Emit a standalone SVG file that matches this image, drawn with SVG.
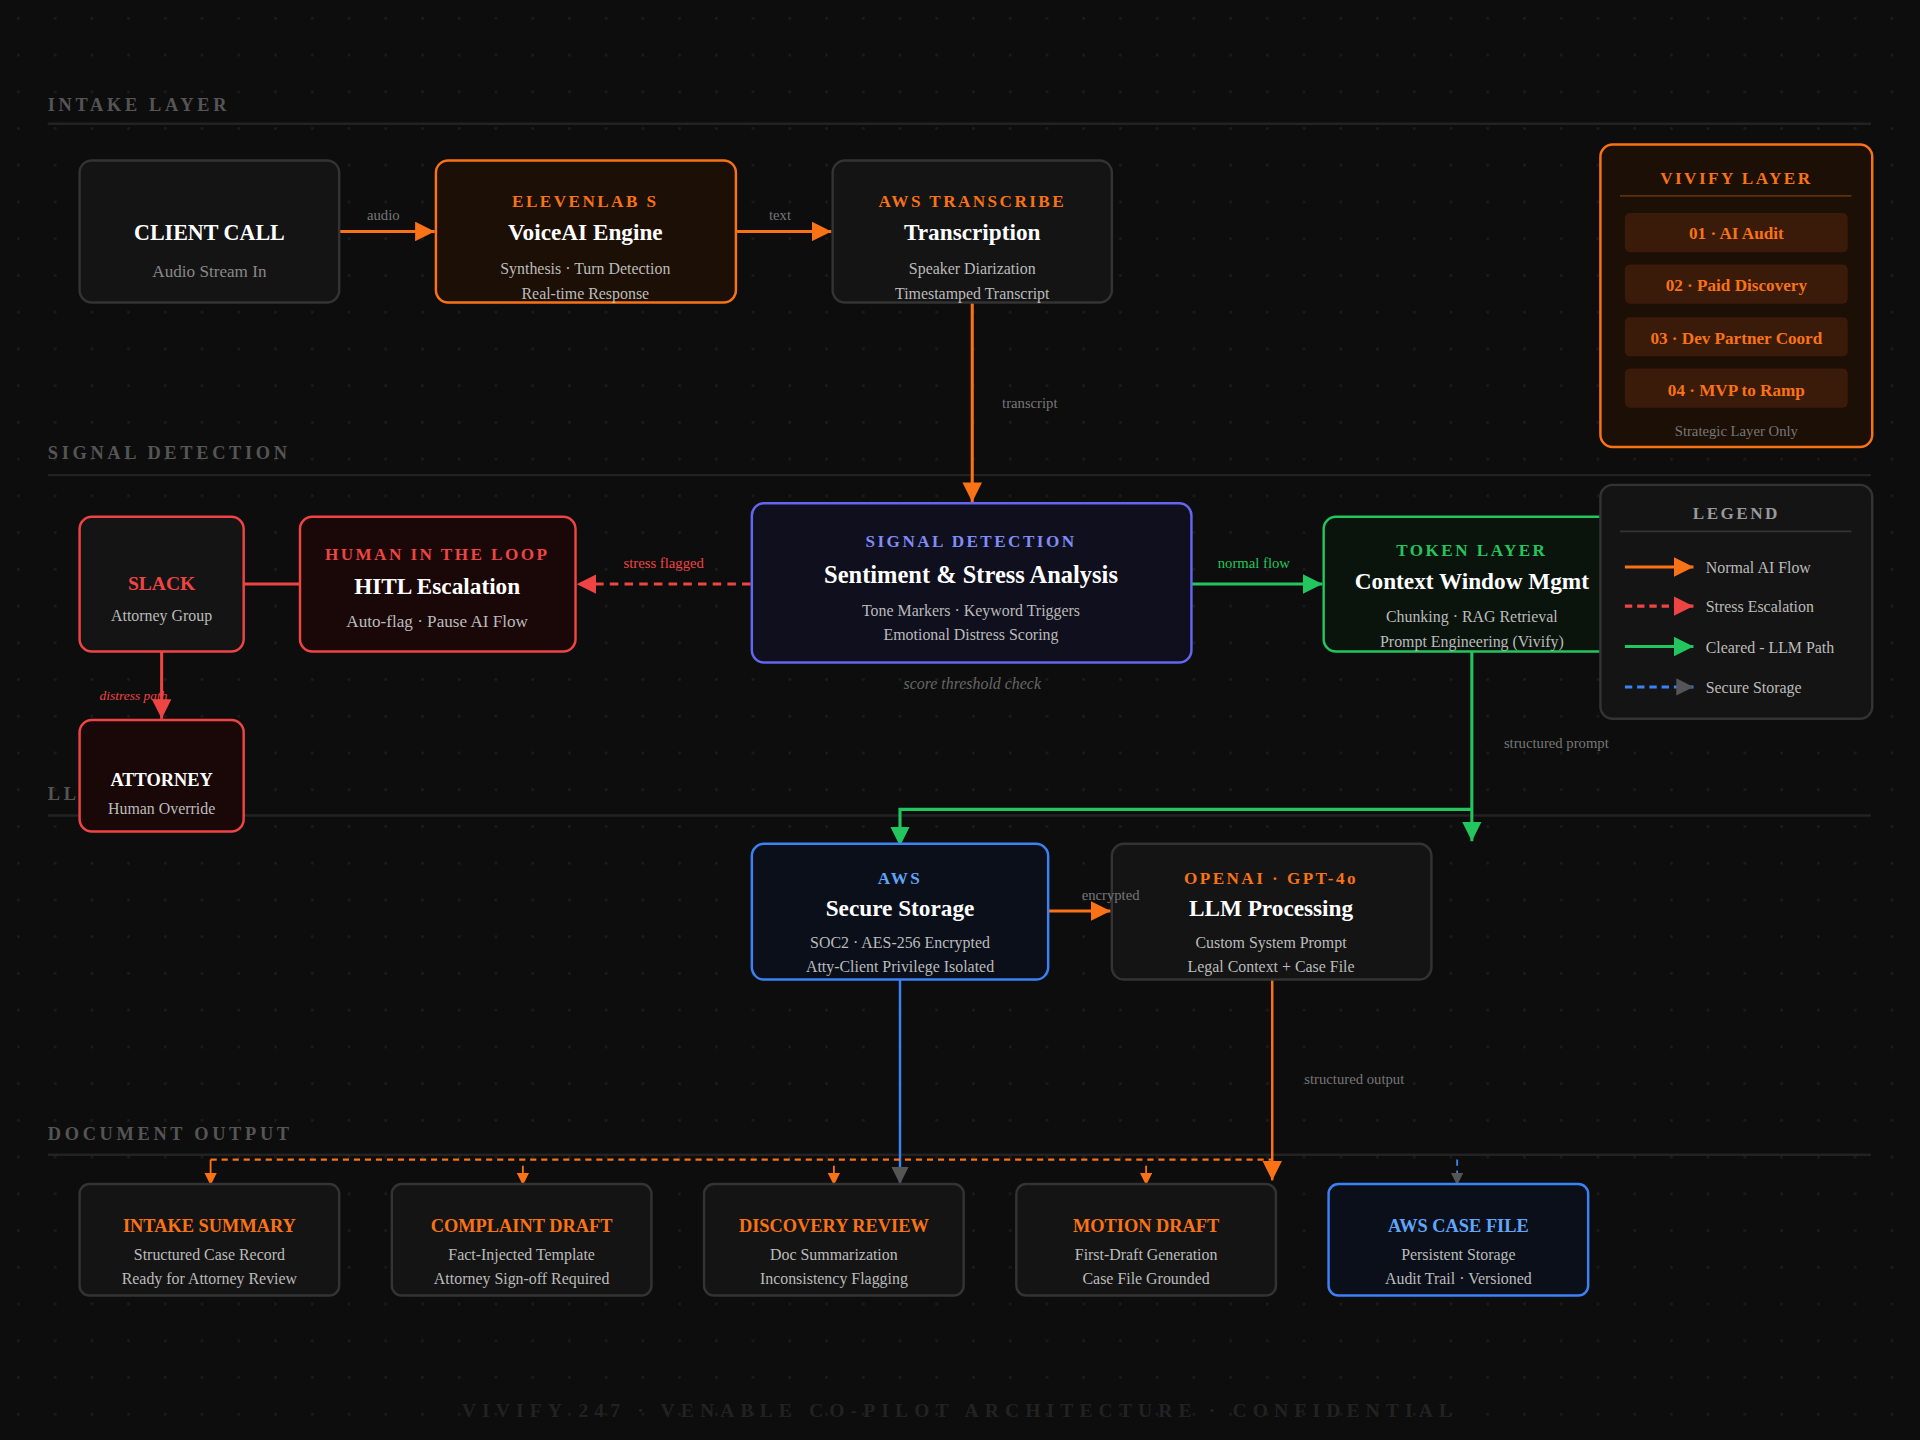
<svg xmlns="http://www.w3.org/2000/svg" width="1920" height="1440" viewBox="0 0 1920 1440">
<defs>
<pattern id="dots" width="30" height="30" patternUnits="userSpaceOnUse"><circle cx="15" cy="15" r="1.2" fill="#1c1c1c"/></pattern>
<marker id="ao" viewBox="0 0 10 10" refX="10" refY="5" markerWidth="16" markerHeight="16" markerUnits="userSpaceOnUse" orient="auto"><path d="M0,0L10,5L0,10z" fill="#f97316"/></marker>
<marker id="aos" viewBox="0 0 10 10" refX="10" refY="5" markerWidth="10" markerHeight="10" markerUnits="userSpaceOnUse" orient="auto"><path d="M0,0L10,5L0,10z" fill="#f97316"/></marker>
<marker id="ar" viewBox="0 0 10 10" refX="10" refY="5" markerWidth="16" markerHeight="16" markerUnits="userSpaceOnUse" orient="auto"><path d="M0,0L10,5L0,10z" fill="#ef4444"/></marker>
<marker id="ag" viewBox="0 0 10 10" refX="10" refY="5" markerWidth="16" markerHeight="16" markerUnits="userSpaceOnUse" orient="auto"><path d="M0,0L10,5L0,10z" fill="#22c55e"/></marker>
<marker id="ay" viewBox="0 0 10 10" refX="10" refY="5" markerWidth="14" markerHeight="14" markerUnits="userSpaceOnUse" orient="auto"><path d="M0,0L10,5L0,10z" fill="#555"/></marker>
<marker id="ays" viewBox="0 0 10 10" refX="10" refY="5" markerWidth="10" markerHeight="10" markerUnits="userSpaceOnUse" orient="auto"><path d="M0,0L10,5L0,10z" fill="#555"/></marker>
</defs>
<style>
text{font-family:"Liberation Serif","DejaVu Serif",serif;text-anchor:middle}
.sec{font-size:15px;font-weight:bold;fill:#555;letter-spacing:3px;text-anchor:start}
.secl{stroke:#222;stroke-width:2}
.kick{font-size:14px;font-weight:bold;letter-spacing:2px}
.ttl{font-size:19px;font-weight:bold;fill:#fff}
.sub{font-size:13px;fill:#bbb}
.lbl{font-size:12px;fill:#777}
.o{fill:#f97316}.r{fill:#ef4444}.g{fill:#22c55e}.b{fill:#60a5fa}.p{fill:#818cf8}
.box{stroke-width:2}
.vi{font-size:14px;font-weight:bold;fill:#f97316}
.lg{font-size:13px;fill:#bbb;text-anchor:start}
</style>
<rect width="1920" height="1440" fill="#0d0d0d"/>
<g transform="scale(1.22449)">
<rect width="1568" height="1176" fill="url(#dots)"/>
<g id="sections">
<text class="sec" x="39" y="91">INTAKE LAYER</text><line class="secl" x1="39" y1="101" x2="1528" y2="101"/>
<text class="sec" x="39" y="375">SIGNAL DETECTION</text><line class="secl" x1="39" y1="388" x2="1528" y2="388"/>
<text class="sec" x="39" y="653">LL</text><line class="secl" x1="39" y1="666" x2="1528" y2="666"/>
<text class="sec" x="39" y="931">DOCUMENT OUTPUT</text><line class="secl" x1="39" y1="943" x2="1528" y2="943"/>
<text x="784" y="1157" style="font-size:16px;font-weight:bold;fill:#222;letter-spacing:5px">VIVIFY 247 · VENABLE CO-PILOT ARCHITECTURE · CONFIDENTIAL</text>
</g>
<g id="connectors" fill="none" stroke-width="2.5">
<line x1="277" y1="189" x2="355" y2="189" stroke="#f97316" marker-end="url(#ao)"/>
<line x1="601" y1="189" x2="679" y2="189" stroke="#f97316" marker-end="url(#ao)"/>
<line x1="794" y1="247" x2="794" y2="410" stroke="#f97316" marker-end="url(#ao)"/>
<line x1="973" y1="477" x2="1080" y2="477" stroke="#22c55e" marker-end="url(#ag)"/>
<line x1="613" y1="477" x2="471" y2="477" stroke="#ef4444" stroke-dasharray="7,5" marker-end="url(#ar)"/>
<line x1="199" y1="477" x2="245" y2="477" stroke="#ef4444"/>
<line x1="132" y1="532" x2="132" y2="587" stroke="#ef4444" marker-end="url(#ar)"/>
<line x1="1202" y1="532" x2="1202" y2="687" stroke="#22c55e" marker-end="url(#ag)"/>
<polyline points="1202,661 735,661 735,691" stroke="#22c55e" marker-end="url(#ag)"/>
<line x1="856" y1="744" x2="907" y2="744" stroke="#f97316" marker-end="url(#ao)"/>
<line x1="735" y1="800" x2="735" y2="967" stroke="#3b82f6" stroke-width="2" marker-end="url(#ay)"/>
<line x1="1039" y1="800" x2="1039" y2="964" stroke="#f97316" stroke-width="2" marker-end="url(#ao)"/>
<line x1="172" y1="947" x2="1039" y2="947" stroke="#f97316" stroke-width="1.8" stroke-dasharray="5,4"/>
<g stroke="#f97316" stroke-width="1.5">
<line x1="172" y1="947" x2="172" y2="968" marker-end="url(#aos)"/>
<line x1="427" y1="952" x2="427" y2="968" marker-end="url(#aos)"/>
<line x1="681" y1="952" x2="681" y2="968" marker-end="url(#aos)"/>
<line x1="936" y1="952" x2="936" y2="968" marker-end="url(#aos)"/>
</g>
<line x1="1190" y1="947" x2="1190" y2="968" stroke="#3b82f6" stroke-width="1.5" stroke-dasharray="5,4" marker-end="url(#ays)"/>
<g stroke="none">
<text class="lbl" x="313" y="180">audio</text>
<text class="lbl" x="637" y="180">text</text>
<text class="lbl" x="841" y="333">transcript</text>
<text class="lbl g" x="1024" y="464">normal flow</text>
<text class="lbl r" x="542" y="464">stress flagged</text>
<text class="lbl" x="1271" y="611">structured prompt</text>
<text class="lbl" x="1106" y="885">structured output</text>
<text x="794" y="563" style="font-size:13px;fill:#666;font-style:italic">score threshold check</text>
</g>
</g>
<g id="client-call"><rect class="box" x="65" y="131" width="212" height="116" rx="10" fill="#141414" stroke="#333"/><text class="ttl" x="171" y="196" style="font-size:18px">CLIENT CALL</text><text class="sub" x="171" y="226" style="font-size:14px;fill:#888">Audio Stream In</text></g>
<g id="elevenlabs"><rect class="box" x="356" y="131" width="245" height="116" rx="10" fill="#1c0f05" stroke="#f97316"/><text class="kick o" x="478" y="169">ELEVENLAB S</text><text class="ttl" x="478" y="196">VoiceAI Engine</text><text class="sub" x="478" y="224">Synthesis · Turn Detection</text><text class="sub" x="478" y="244">Real-time Response</text></g>
<g id="transcribe"><rect class="box" x="680" y="131" width="228" height="116" rx="10" fill="#141414" stroke="#333"/><text class="kick o" x="794" y="169">AWS TRANSCRIBE</text><text class="ttl" x="794" y="196">Transcription</text><text class="sub" x="794" y="224">Speaker Diarization</text><text class="sub" x="794" y="244">Timestamped Transcript</text></g>
<g id="vivify"><rect class="box" x="1307" y="118" width="222" height="247" rx="10" fill="#1c0f05" stroke="#f97316"/><text class="kick o" x="1418" y="150">VIVIFY LAYER</text><line x1="1323" y1="160" x2="1512" y2="160" stroke="#5a3010" stroke-width="1.5"/>
<rect x="1327" y="174" width="182" height="32" rx="4" fill="#3a1a08"/><text class="vi" x="1418" y="195">01 · AI Audit</text>
<rect x="1327" y="216" width="182" height="32" rx="4" fill="#3a1a08"/><text class="vi" x="1418" y="238">02 · Paid Discovery</text>
<rect x="1327" y="259" width="182" height="32" rx="4" fill="#3a1a08"/><text class="vi" x="1418" y="281">03 · Dev Partner Coord</text>
<rect x="1327" y="301" width="182" height="32" rx="4" fill="#3a1a08"/><text class="vi" x="1418" y="323">04 · MVP to Ramp</text>
<text x="1418" y="356" style="font-size:12px;fill:#777">Strategic Layer Only</text></g>
<g id="slack"><rect class="box" x="65" y="422" width="134" height="110" rx="10" fill="#141414" stroke="#ef4444"/><text class="r" x="132" y="482" style="font-size:16px;font-weight:bold">SLACK</text><text class="sub" x="132" y="507">Attorney Group</text></g>
<g id="hitl"><rect class="box" x="245" y="422" width="225" height="110" rx="10" fill="#1a0808" stroke="#ef4444"/><text class="kick r" x="357" y="457">HUMAN IN THE LOOP</text><text class="ttl" x="357" y="485">HITL Escalation</text><text class="sub" x="357" y="512" style="font-size:14px">Auto-flag · Pause AI Flow</text></g>
<g id="signal"><rect class="box" x="614" y="411" width="359" height="130" rx="10" fill="#0f0f1e" stroke="#6366f1"/><text class="kick p" x="793" y="447">SIGNAL DETECTION</text><text class="ttl" x="793" y="476" style="font-size:20px">Sentiment &amp; Stress Analysis</text><text class="sub" x="793" y="503">Tone Markers · Keyword Triggers</text><text class="sub" x="793" y="523">Emotional Distress Scoring</text></g>
<g id="token"><rect class="box" x="1081" y="422" width="245" height="110" rx="10" fill="#0a140c" stroke="#22c55e"/><text class="kick g" x="1202" y="454">TOKEN LAYER</text><text class="ttl" x="1202" y="481">Context Window Mgmt</text><text class="sub" x="1202" y="508">Chunking · RAG Retrieval</text><text class="sub" x="1202" y="528">Prompt Engineering (Vivify)</text></g>
<g id="legend"><rect class="box" x="1307" y="396" width="222" height="191" rx="10" fill="#141414" stroke="#333"/><text x="1418" y="424" style="font-size:14px;font-weight:bold;fill:#999;letter-spacing:2px">LEGEND</text><line x1="1323" y1="434" x2="1512" y2="434" stroke="#333" stroke-width="1.5"/>
<line x1="1327" y1="463" x2="1383" y2="463" stroke="#f97316" stroke-width="2.5" marker-end="url(#ao)"/><text class="lg" x="1393" y="468">Normal AI Flow</text>
<line x1="1327" y1="495" x2="1383" y2="495" stroke="#ef4444" stroke-width="2.5" stroke-dasharray="6,4" marker-end="url(#ar)"/><text class="lg" x="1393" y="500">Stress Escalation</text>
<line x1="1327" y1="528" x2="1383" y2="528" stroke="#22c55e" stroke-width="2.5" marker-end="url(#ag)"/><text class="lg" x="1393" y="533">Cleared - LLM Path</text>
<line x1="1327" y1="561" x2="1383" y2="561" stroke="#3b82f6" stroke-width="2.5" stroke-dasharray="6,4" marker-end="url(#ay)"/><text class="lg" x="1393" y="566">Secure Storage</text></g>
<g id="attorney"><rect class="box" x="65" y="588" width="134" height="91" rx="10" fill="#1a0808" stroke="#ef4444"/><text x="132" y="642" style="font-size:15px;font-weight:bold;fill:#fff">ATTORNEY</text><text class="sub" x="132" y="665">Human Override</text></g>
<g id="aws-storage"><rect class="box" x="614" y="689" width="242" height="111" rx="10" fill="#0a0f1a" stroke="#3b82f6"/><text class="kick b" x="735" y="722">AWS</text><text class="ttl" x="735" y="748">Secure Storage</text><text class="sub" x="735" y="774">SOC2 · AES-256 Encrypted</text><text class="sub" x="735" y="794">Atty-Client Privilege Isolated</text></g>
<g id="openai"><rect class="box" x="908" y="689" width="261" height="111" rx="10" fill="#141414" stroke="#333"/><text class="kick o" x="1038" y="722">OPENAI · GPT-4o</text><text class="ttl" x="1038" y="748">LLM Processing</text><text class="sub" x="1038" y="774">Custom System Prompt</text><text class="sub" x="1038" y="794">Legal Context + Case File</text></g>
<g id="intake-summary"><rect class="box" x="65" y="967" width="212" height="91" rx="8" fill="#141414" stroke="#333"/><text class="o" x="171" y="1006" style="font-size:15px;font-weight:bold">INTAKE SUMMARY</text><text class="sub" x="171" y="1029">Structured Case Record</text><text class="sub" x="171" y="1049">Ready for Attorney Review</text></g>
<g id="complaint-draft"><rect class="box" x="320" y="967" width="212" height="91" rx="8" fill="#141414" stroke="#333"/><text class="o" x="426" y="1006" style="font-size:15px;font-weight:bold">COMPLAINT DRAFT</text><text class="sub" x="426" y="1029">Fact-Injected Template</text><text class="sub" x="426" y="1049">Attorney Sign-off Required</text></g>
<g id="discovery-review"><rect class="box" x="575" y="967" width="212" height="91" rx="8" fill="#141414" stroke="#333"/><text class="o" x="681" y="1006" style="font-size:15px;font-weight:bold">DISCOVERY REVIEW</text><text class="sub" x="681" y="1029">Doc Summarization</text><text class="sub" x="681" y="1049">Inconsistency Flagging</text></g>
<g id="motion-draft"><rect class="box" x="830" y="967" width="212" height="91" rx="8" fill="#141414" stroke="#333"/><text class="o" x="936" y="1006" style="font-size:15px;font-weight:bold">MOTION DRAFT</text><text class="sub" x="936" y="1029">First-Draft Generation</text><text class="sub" x="936" y="1049">Case File Grounded</text></g>
<g id="aws-case-file"><rect class="box" x="1085" y="967" width="212" height="91" rx="8" fill="#0a0f1a" stroke="#3b82f6"/><text class="b" x="1191" y="1006" style="font-size:15px;font-weight:bold">AWS CASE FILE</text><text class="sub" x="1191" y="1029">Persistent Storage</text><text class="sub" x="1191" y="1049">Audit Trail · Versioned</text></g>
<g id="connector-labels-top">
<text class="lbl" x="907" y="735">encrypted</text>
<text class="lbl r" x="109" y="572" font-style="italic" style="font-size:11px">distress path</text>
</g>
</g>
</svg>
